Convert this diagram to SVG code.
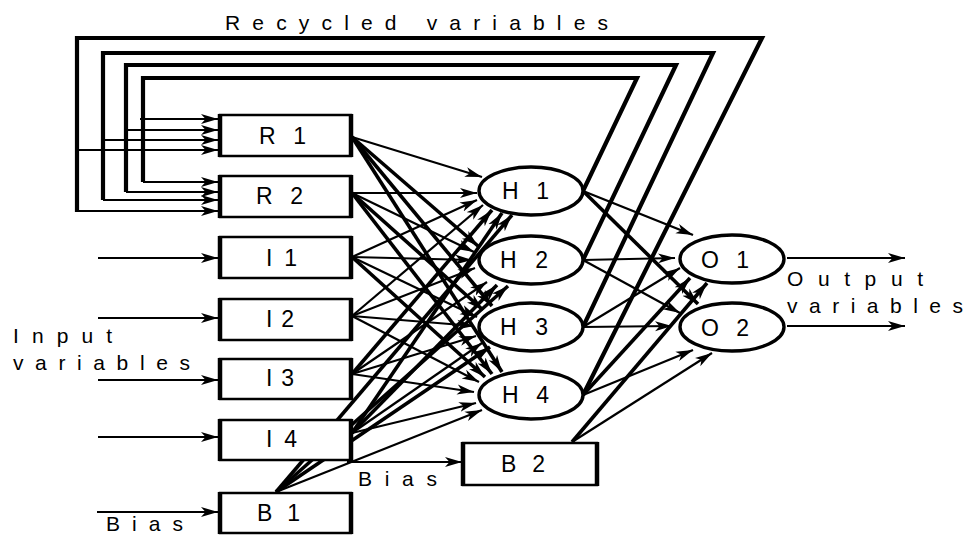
<svg xmlns="http://www.w3.org/2000/svg" width="965" height="535" viewBox="0 0 965 535">
<style>
text{font-family:"Liberation Sans",Arial,sans-serif;fill:#000}
.t{font-size:21px}
.n{font-size:23px}
.box{fill:#fff;stroke:#000;stroke-width:2.5}
.side{stroke:#000;stroke-width:4.5}
.ell{fill:#fff;stroke:#000;stroke-width:3.4}
.c{fill:none;stroke:#000;stroke-width:2.2;marker-end:url(#a)}
.k{fill:none;stroke:#000;stroke-width:3.6;marker-end:url(#a)}
.fb{fill:none;stroke:#000;stroke-width:4.2;stroke-linejoin:miter}
</style>
<defs>
<marker id="a" markerUnits="userSpaceOnUse" markerWidth="20" markerHeight="12" refX="17" refY="5.5" orient="auto">
<path d="M0,0.5 L17,5.5 L0,10.5 L4.5,5.5 Z" fill="#000"/>
</marker>
</defs>
<rect width="965" height="535" fill="#fff"/>

<text class="t" x="225" y="30" textLength="383" lengthAdjust="spacing">Recycled variables</text>
<text class="t" x="13" y="343" textLength="99" lengthAdjust="spacing">Input</text>
<text class="t" x="13" y="370" textLength="177" lengthAdjust="spacing">variables</text>
<text class="t" x="106" y="531" textLength="77" lengthAdjust="spacing">Bias</text>
<text class="t" x="358" y="486" textLength="79" lengthAdjust="spacing">Bias</text>
<text class="t" x="787" y="286" textLength="136" lengthAdjust="spacing">Output</text>
<text class="t" x="787" y="313" textLength="176" lengthAdjust="spacing">variables</text>

<g id="connectors">
<polyline class="fb" points="583,191 637,78 143,78 143,182"/>
<polyline class="fb" points="583,260 676,65 126,65 126,192"/>
<polyline class="fb" points="583,327 713,53 103,53 103,200"/>
<polyline class="fb" points="583,395 762,38 77,38 77,212"/>
<line class="c" x1="140" y1="119" x2="218" y2="119"/>
<line class="c" x1="126" y1="130" x2="218" y2="130"/>
<line class="c" x1="103" y1="140" x2="218" y2="140"/>
<line class="c" x1="77" y1="150" x2="218" y2="150"/>
<line class="c" x1="143" y1="182" x2="218" y2="182"/>
<line class="c" x1="126" y1="192" x2="218" y2="192"/>
<line class="c" x1="103" y1="200" x2="218" y2="200"/>
<line class="c" x1="77" y1="211" x2="218" y2="211"/>
<line class="c" x1="98" y1="258" x2="218" y2="258"/>
<line class="c" x1="98" y1="318" x2="218" y2="318"/>
<line class="c" x1="98" y1="380" x2="218" y2="380"/>
<line class="c" x1="98" y1="437" x2="218" y2="437"/>
<line class="c" x1="97" y1="512" x2="218" y2="512"/>
<line class="c" x1="347" y1="462" x2="462" y2="462"/>
<line class="c" x1="352" y1="137" x2="482" y2="177"/>
<line class="k" x1="352" y1="137" x2="478" y2="246"/>
<line class="k" x1="352" y1="137" x2="492" y2="306"/>
<line class="k" x1="352" y1="137" x2="502" y2="372"/>
<line class="c" x1="352" y1="193" x2="477" y2="193"/>
<line class="c" x1="352" y1="193" x2="474" y2="252"/>
<line class="k" x1="352" y1="193" x2="483" y2="310"/>
<line class="k" x1="352" y1="193" x2="492" y2="374"/>
<line class="c" x1="352" y1="257" x2="477" y2="200"/>
<line class="c" x1="352" y1="257" x2="472" y2="260"/>
<line class="c" x1="352" y1="257" x2="477" y2="317"/>
<line class="k" x1="352" y1="257" x2="485" y2="377"/>
<line class="c" x1="352" y1="316" x2="483" y2="205"/>
<line class="c" x1="352" y1="316" x2="475" y2="268"/>
<line class="c" x1="352" y1="316" x2="474" y2="326"/>
<line class="c" x1="352" y1="316" x2="479" y2="382"/>
<line class="k" x1="352" y1="374" x2="492" y2="210"/>
<line class="c" x1="352" y1="374" x2="487" y2="282"/>
<line class="c" x1="352" y1="374" x2="476" y2="336"/>
<line class="c" x1="352" y1="374" x2="474" y2="392"/>
<line class="k" x1="352" y1="433" x2="502" y2="213"/>
<line class="k" x1="352" y1="433" x2="497" y2="285"/>
<line class="c" x1="352" y1="433" x2="482" y2="343"/>
<line class="c" x1="352" y1="433" x2="476" y2="403"/>
<line class="k" x1="276" y1="492" x2="512" y2="215"/>
<line class="k" x1="276" y1="492" x2="508" y2="286"/>
<line class="k" x1="276" y1="492" x2="490" y2="347"/>
<line class="c" x1="276" y1="492" x2="482" y2="410"/>
<line class="c" x1="583" y1="191" x2="693" y2="235"/>
<line class="k" x1="583" y1="191" x2="698" y2="304"/>
<line class="c" x1="583" y1="260" x2="675" y2="258"/>
<line class="c" x1="583" y1="260" x2="680" y2="313"/>
<line class="c" x1="583" y1="327" x2="680" y2="268"/>
<line class="c" x1="583" y1="327" x2="672" y2="326"/>
<line class="k" x1="583" y1="395" x2="690" y2="278"/>
<line class="c" x1="583" y1="395" x2="693" y2="350"/>
<line class="k" x1="572" y1="442" x2="707" y2="283"/>
<line class="c" x1="572" y1="442" x2="712" y2="353"/>
<line class="c" x1="787" y1="258" x2="905" y2="258"/>
<line class="c" x1="787" y1="326" x2="905" y2="326"/>
</g>

<g id="R1"><rect class="box" x="220" y="115" width="131" height="41"/><line class="side" x1="220" y1="114" x2="220" y2="157"/><line class="side" x1="351" y1="114" x2="351" y2="157"/><text class="n" x="259" y="144" textLength="47" lengthAdjust="spacing">R 1</text></g>
<g id="R2"><rect class="box" x="220" y="176" width="131" height="41"/><line class="side" x1="220" y1="175" x2="220" y2="218"/><line class="side" x1="351" y1="175" x2="351" y2="218"/><text class="n" x="256" y="204" textLength="47" lengthAdjust="spacing">R 2</text></g>
<g id="I1"><rect class="box" x="220" y="237" width="131" height="41"/><line class="side" x1="220" y1="236" x2="220" y2="279"/><line class="side" x1="351" y1="236" x2="351" y2="279"/><text class="n" x="266" y="266" textLength="31" lengthAdjust="spacing">I1</text></g>
<g id="I2"><rect class="box" x="220" y="299" width="131" height="41"/><line class="side" x1="220" y1="298" x2="220" y2="341"/><line class="side" x1="351" y1="298" x2="351" y2="341"/><text class="n" x="266" y="327" textLength="28" lengthAdjust="spacing">I2</text></g>
<g id="I3"><rect class="box" x="220" y="359" width="131" height="40"/><line class="side" x1="220" y1="358" x2="220" y2="400"/><line class="side" x1="351" y1="358" x2="351" y2="400"/><text class="n" x="266" y="386" textLength="28" lengthAdjust="spacing">I3</text></g>
<g id="I4"><rect class="box" x="220" y="420" width="131" height="40"/><line class="side" x1="220" y1="419" x2="220" y2="461"/><line class="side" x1="351" y1="419" x2="351" y2="461"/><text class="n" x="266" y="447" textLength="31" lengthAdjust="spacing">I4</text></g>
<g id="B1"><rect class="box" x="220" y="493" width="131" height="40"/><line class="side" x1="220" y1="492" x2="220" y2="534"/><line class="side" x1="351" y1="492" x2="351" y2="534"/><text class="n" x="257" y="521" textLength="43" lengthAdjust="spacing">B 1</text></g>
<g id="B2"><rect class="box" x="463" y="443" width="134" height="42"/><line class="side" x1="463" y1="442" x2="463" y2="486"/><line class="side" x1="597" y1="442" x2="597" y2="486"/><text class="n" x="501" y="472" textLength="44" lengthAdjust="spacing">B 2</text></g>

<g id="H1"><ellipse class="ell" cx="531" cy="191" rx="52" ry="24"/><text class="n" x="502" y="199" textLength="47" lengthAdjust="spacing">H 1</text></g>
<g id="H2"><ellipse class="ell" cx="531" cy="260" rx="52" ry="24"/><text class="n" x="500" y="268" textLength="48" lengthAdjust="spacing">H 2</text></g>
<g id="H3"><ellipse class="ell" cx="531" cy="327" rx="52" ry="24"/><text class="n" x="500" y="335" textLength="48" lengthAdjust="spacing">H 3</text></g>
<g id="H4"><ellipse class="ell" cx="531" cy="395" rx="52" ry="24"/><text class="n" x="502" y="403" textLength="47" lengthAdjust="spacing">H 4</text></g>
<g id="O1"><ellipse class="ell" cx="732" cy="259" rx="52" ry="24"/><text class="n" x="701" y="268" textLength="48" lengthAdjust="spacing">O 1</text></g>
<g id="O2"><ellipse class="ell" cx="732" cy="327" rx="52" ry="24"/><text class="n" x="701" y="336" textLength="48" lengthAdjust="spacing">O 2</text></g>
</svg>
